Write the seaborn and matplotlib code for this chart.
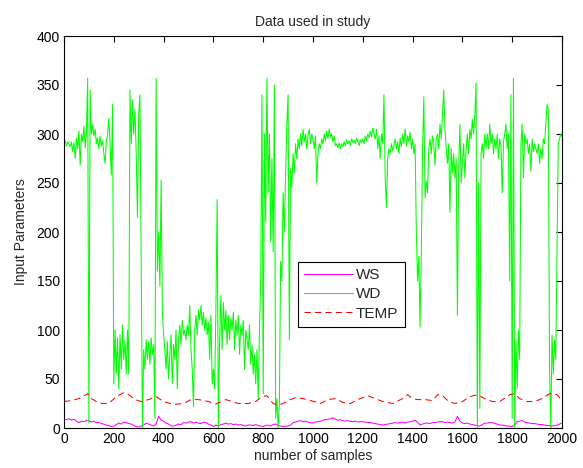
"""Recreation of the 'Data used in study' line chart (WS, WD, TEMP over 2000 samples)."""

import matplotlib
matplotlib.use("Agg")
import matplotlib.pyplot as plt
import numpy as np
import pandas as pd
import seaborn as sns


# wind direction, read every 5 samples (0..2000)
wd_step = 5
wd_values = [
    290, 293, 288, 292, 290, 287, 292, 282, 291, 275, 296, 285, 303, 268, 300, 292, 308, 286, 300, 357,
    5, 345, 300, 310, 298, 305, 290, 296, 285, 298, 288, 293, 280, 270, 292, 300, 316, 290, 258, 330,
    45, 100, 55, 92, 40, 95, 60, 105, 70, 90, 55, 100, 55, 345, 290, 335, 300, 325, 280, 215,
    320, 340, 170, 0, 80, 60, 90, 70, 88, 65, 92, 75, 85, 10, 357, 160, 200, 145, 253, 120,
    95, 80, 60, 88, 50, 75, 95, 45, 85, 70, 100, 40, 90, 105, 85, 110, 95, 100, 90, 105,
    95, 125, 80, 60, 22, 100, 115, 95, 120, 110, 125, 105, 118, 100, 112, 95, 108, 70, 115, 45,
    60, 40, 120, 233, 0, 90, 135, 80, 128, 100, 120, 85, 115, 90, 112, 100, 118, 80, 110, 95,
    115, 75, 105, 95, 110, 60, 100, 90, 80, 105, 65, 85, 55, 75, 45, 80, 30, 100, 150, 340,
    35, 300, 210, 357, 240, 300, 190, 275, 180, 350, 10, 30, 0, 25, 170, 150, 240, 200, 260, 310,
    340, 90, 265, 245, 280, 260, 290, 275, 295, 285, 300, 288, 305, 292, 300, 285, 298, 305, 290, 300,
    295, 285, 298, 250, 280, 290, 285, 295, 290, 300, 293, 303, 295, 305, 297, 300, 292, 298, 288, 290,
    286, 291, 285, 290, 287, 292, 288, 294, 290, 293, 288, 295, 291, 294, 290, 296, 292, 288, 294, 291,
    295, 290, 298, 293, 300, 296, 303, 297, 306, 300, 295, 305, 285, 298, 275, 300, 290, 340, 255, 225,
    275, 285, 280, 290, 283, 288, 295, 285, 292, 280, 296, 287, 300, 290, 305, 288, 298, 292, 302, 285,
    295, 280, 290, 200, 150, 175, 103, 180, 283, 338, 235, 252, 240, 285, 295, 280, 298, 290, 268, 295,
    300, 285, 310, 295, 320, 345, 305, 285, 270, 290, 220, 285, 260, 280, 255, 275, 115, 265, 310, 250,
    270, 290, 255, 285, 300, 280, 305, 295, 315, 300, 320, 352, 0, 250, 20, 280, 290, 275, 300, 285,
    300, 285, 310, 290, 300, 280, 295, 285, 300, 275, 295, 288, 240, 292, 300, 310, 285, 300, 150, 340,
    10, 357, 0, 90, 40, 100, 70, 290, 310, 255, 300, 290, 295, 280, 290, 262, 295, 282, 290, 285,
    280, 290, 270, 285, 275, 295, 290, 310, 330, 325, 60, 0, 95, 55, 90, 70, 180, 290, 295, 300,
    297,
]

# wind speed, read every 10 samples
ws_step = 10
ws_values = [
    9, 8.5, 9.5, 8, 9, 7, 5.5, 7, 6.5, 7.5,
    7.5, 6, 7, 5.5, 6, 4.5, 4, 3, 2.5, 1.5,
    2, 3.5, 5, 4, 6, 5.5, 4.5, 4, 2.5, 1.5,
    1, 2, 3, 5, 4, 3, 2, 4, 12, 8,
    7, 5, 4, 2, 2, 3, 4, 3.5, 5.5, 5,
    6, 6.5, 5, 6, 5, 4.5, 6, 5.5, 4, 3,
    1.5, 3, 2, 3.5, 4, 5, 4, 4.5, 3.5, 4,
    3, 3.5, 2.5, 2, 3, 3, 2.5, 3.5, 2.5, 2,
    1.5, 2.5, 3, 2, 3.5, 4, 2.5, 2, 1.5, 2,
    2, 3, 5.5, 6, 7, 7.5, 6.5, 7, 6, 5.5,
    5, 6, 6.5, 7, 8, 8.5, 9, 9.5, 10.5, 9,
    8, 8.5, 7.5, 7, 7.5, 6.5, 6.5, 7, 6, 6.5,
    6.5, 6, 5.5, 5.5, 5, 4.5, 4, 3.5, 3, 3.5,
    4, 4.5, 5, 5.5, 5, 5.5, 6, 5, 6, 6.5,
    7, 8, 6, 3, 4, 5, 5, 4.5, 5.5, 5.5,
    6, 6.5, 6.5, 5.5, 6, 5.5, 5, 6, 12, 7,
    5, 4.5, 5, 4, 3.5, 3, 2.5, 2, 3.5, 5,
    5, 5.5, 5.5, 4.5, 4, 3, 3, 2.5, 2, 2,
    1.5, 3, 6.5, 7, 7.5, 6, 5.5, 5, 4.5, 4.5,
    4, 3.5, 3.5, 3, 2.5, 2.5, 2, 2.5, 3, 4,
    5,
]

# temperature, read at irregular sample positions
temp_samples = [
    0, 30, 60, 95, 110, 130, 150, 180, 210, 240,
    260, 285, 310, 340, 370, 400, 440, 480, 510, 540,
    580, 610, 650, 700, 740, 770, 795, 815, 840, 860,
    880, 900, 930, 960, 990, 1030, 1060, 1090, 1120, 1150,
    1180, 1220, 1250, 1280, 1320, 1360, 1380, 1400, 1420, 1450,
    1480, 1500, 1520, 1545, 1570, 1600, 1630, 1660, 1690, 1720,
    1750, 1790, 1810, 1830, 1860, 1890, 1920, 1950, 1980, 2000,
]
temp_values = [
    27, 28, 30, 35, 30, 27, 25, 25, 32, 36,
    34, 29, 27, 29, 32, 27, 24, 25, 29, 29,
    27, 24.5, 29, 25, 25, 27, 32, 33, 25, 23.5,
    25, 28, 31, 30, 28, 25, 29, 30, 26, 25,
    29, 33, 30, 27, 25, 30, 34, 30, 29, 29,
    28, 34, 33, 27, 25, 27, 32, 34, 30, 27,
    27, 34, 35, 30, 27, 27, 30, 35, 34, 28,
]

x_ticks = [0, 200, 400, 600, 800, 1000, 1200, 1400, 1600, 1800, 2000]
y_ticks = [0, 50, 100, 150, 200, 250, 300, 350, 400]


def main() -> None:
    sns.set_theme(style="white")
    plt.rcParams["font.family"] = ["Liberation Sans", "DejaVu Sans"]

    wd = pd.DataFrame({"sample": np.arange(len(wd_values)) * wd_step, "value": wd_values})
    ws = pd.DataFrame({"sample": np.arange(len(ws_values)) * ws_step, "value": ws_values})
    temp = pd.DataFrame({"sample": temp_samples, "value": temp_values})

    fig, ax = plt.subplots(figsize=(5.83, 4.68), dpi=100)
    fig.subplots_adjust(left=64 / 583, right=562 / 583, bottom=1 - 428 / 468, top=1 - 36 / 468)

    sns.lineplot(data=ws, x="sample", y="value", color="#ff00ff", lw=0.75, label="WS", ax=ax)
    sns.lineplot(data=wd, x="sample", y="value", color="#00ff00", lw=0.75, label="WD", ax=ax)
    sns.lineplot(data=temp, x="sample", y="value", color="#ff0000", lw=0.75, label="TEMP", ax=ax)
    ax.lines[-1].set_dashes((6.0, 4.0))

    ax.set_xlim(0, 2000)
    ax.set_ylim(0, 400)
    ax.set_xticks(x_ticks)
    ax.set_yticks(y_ticks)
    ax.tick_params(direction="in", top=True, right=True, length=4, width=0.8,
                   labelsize=10, colors="black", pad=3)
    for spine in ax.spines.values():
        spine.set_color("black")
        spine.set_linewidth(0.8)

    ax.set_title("Data used in study", fontsize=10, pad=7)
    ax.set_xlabel("number of samples", fontsize=10, labelpad=2)
    ax.set_ylabel("Input Parameters", fontsize=10, labelpad=6)

    legend = ax.legend(loc="lower left", bbox_to_anchor=(0.47, 0.258), borderaxespad=0,
                       fontsize=11, handlelength=3.2, handletextpad=0.2, labelspacing=0.35,
                       borderpad=0.4, fancybox=False, framealpha=1, edgecolor="black")
    legend.get_frame().set_linewidth(0.8)
    legend.get_lines()[-1].set_dashes((6.0, 4.0))

    plt.savefig("out.png", dpi=100)
    plt.close()


if __name__ == "__main__":
    main()
